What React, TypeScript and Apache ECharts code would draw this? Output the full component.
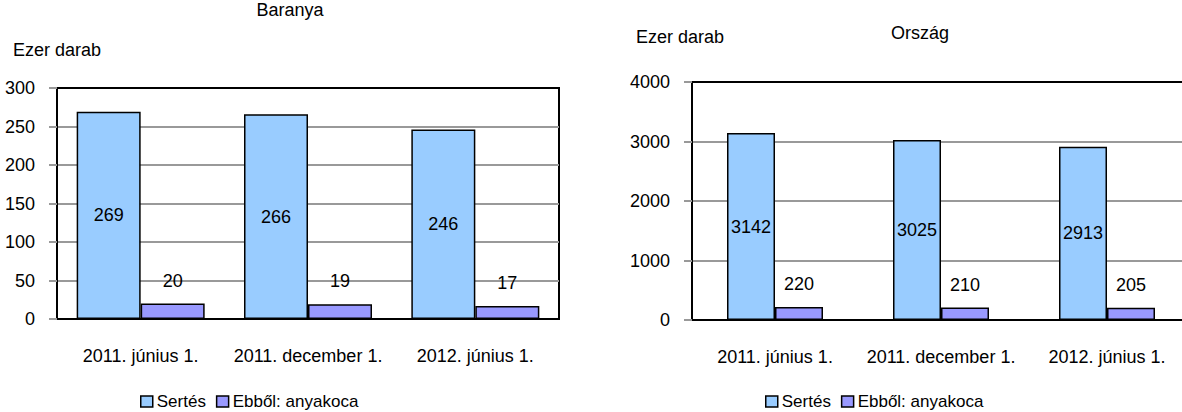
import React, { useEffect, useRef } from "react";
import * as echarts from "echarts";

const categories = ["2011. június 1.", "2011. december 1.", "2012. június 1."];
const baranyaSertes = [269, 266, 246];
const baranyaKoca = [20, 19, 17];
const orszagSertes = [3142, 3025, 2913];
const orszagKoca = [220, 210, 205];
const seriesNames = ["Sertés", "Ebből: anyakoca"];
const titles = ["Baranya", "Ország"];
const unitLabel = "Ezer darab";

const FONT = "Liberation Sans, Arial, sans-serif";
const FS = 18;

export default function App() {
  const ref = useRef<HTMLDivElement>(null);
  useEffect(() => {
    if (!ref.current) return;
    const chart = echarts.init(ref.current, undefined, { renderer: "svg" });
    const txt = { color: "#000", fontFamily: FONT, fontSize: FS };
    const grids = [
      { left: 57, top: 88, width: 502, height: 231 },
      { left: 692, top: 82, width: 498, height: 238 },
    ];
    const yAxes = [
      { max: 300, interval: 50 },
      { max: 4000, interval: 1000 },
    ];
    const splitColors = [
      "#999",
      ["#999", "#999", "#999", "#999", "#000"],
    ];
    const barW = [64, 48];
    const data = [
      [baranyaSertes, baranyaKoca],
      [orszagSertes, orszagKoca],
    ];
    const colors = ["#99CCFF", "#9999FF"];

    const legendBase = {
      data: seriesNames,
      top: 388,
      itemWidth: 12,
      itemHeight: 11,
      itemGap: 10,
      itemStyle: { borderColor: "#000", borderWidth: 1.5 },
      textStyle: { ...txt, fontSize: 17, padding: [0, 0, 0, -1] },
      icon: "rect",
    };
    const titleStyle = { ...txt, fontWeight: "normal" };

    const option: any = {
      animation: false,
      backgroundColor: "#fff",
      textStyle: { fontFamily: FONT },
      title: [
        { text: titles[0], left: 290, top: 1, padding: 0, textAlign: "center", textStyle: titleStyle },
        { text: titles[1], left: 920, top: 24, padding: 0, textAlign: "center", textStyle: titleStyle },
        { text: unitLabel, left: 13, top: 41, padding: 0, textStyle: titleStyle },
        { text: unitLabel, left: 636, top: 28, padding: 0, textStyle: titleStyle },
      ],
      legend: [
        { ...legendBase, left: 135 },
        { ...legendBase, left: 760 },
      ],
      grid: grids.map((g, i) => ({
        ...g,
        show: i === 0,
        borderColor: "#000",
        borderWidth: 2,
        backgroundColor: "transparent",
      })),
      xAxis: grids.map((_, i) => ({
        type: "category",
        gridIndex: i,
        data: categories,
        axisLine: { lineStyle: { color: "#000", width: 2 } },
        axisTick: { show: false },
        axisLabel: { ...txt, margin: 28, interval: 0 },
      })),
      yAxis: yAxes.map((y, i) => ({
        type: "value",
        gridIndex: i,
        min: 0,
        max: y.max,
        interval: y.interval,
        axisLine: { show: true, lineStyle: { color: "#000", width: 2 } },
        axisTick: { show: true, length: 8, lineStyle: { color: "#999", width: 2 } },
        axisLabel: { ...txt, margin: 22, formatter: (v: number) => String(v) },
        splitLine: {
          show: true,
          showMaxLine: i === 1,
          lineStyle: { color: splitColors[i], width: 2 },
        },
      })),
      series: [0, 1].flatMap((g) =>
        [0, 1].map((s) => ({
          name: seriesNames[s],
          type: "bar",
          xAxisIndex: g,
          yAxisIndex: g,
          data: data[g][s],
          barWidth: barW[g],
          barGap: "0%",
          itemStyle: { color: colors[s], borderColor: "#000", borderWidth: 1.5 },
          label: {
            show: true,
            position: s === 0 ? "inside" : "top",
            distance: s === 0 ? 5 : 14,
            ...txt,
          },
        }))
      ),
    };
    chart.setOption(option);
    return () => chart.dispose();
  }, []);
  return (
    <div style={{ position: "fixed", left: 0, top: 0, width: 1182, height: 412, overflow: "hidden", background: "#fff" }}>
      <div ref={ref} style={{ width: 1200, height: 412 }} />
    </div>
  );
}
